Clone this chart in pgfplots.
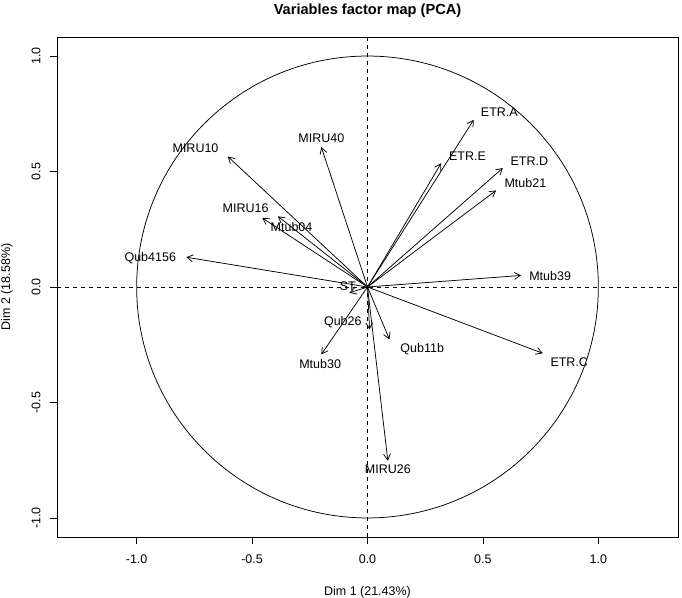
\documentclass[border=0pt]{standalone}
\usepackage{fontspec}
\setmainfont{Liberation Sans}
\usepackage{pgfplots}
\usepackage{pgfplotstable}
\pgfplotsset{compat=1.18}
\usetikzlibrary{arrows.meta}

% arrow tips (Dim 1, Dim 2)
\pgfplotstableread{
name    x0 y0 u      v
ETR.A   0  0  0.460  0.724
ETR.E   0  0  0.319  0.536
ETR.D   0  0  0.586  0.515
Mtub21  0  0  0.557  0.418
Mtub39  0  0  0.665  0.050
ETR.C   0  0  0.759  -0.287
MIRU10  0  0  -0.605 0.565
MIRU40  0  0  -0.200 0.606
MIRU16  0  0  -0.456 0.299
Mtub04  0  0  -0.388 0.306
Qub4156 0  0  -0.785 0.129
ST      0  0  -0.078 -0.025
Qub26   0  0  0.009  -0.184
Qub11b  0  0  0.095  -0.227
Mtub30  0  0  -0.200 -0.292
MIRU26  0  0  0.088  -0.752
}\vectors

% label positions
\pgfplotstableread{
name    lx     ly
ETR.A   0.571  0.758
ETR.E   0.433  0.568
ETR.D   0.701  0.546
Mtub21  0.684  0.451
Mtub39  0.791  0.047
ETR.C   0.874  -0.327
MIRU10  -0.745 0.603
MIRU40  -0.200 0.645
MIRU16  -0.528 0.342
Mtub04  -0.329 0.260
Qub4156 -0.941 0.126
ST      -0.085 0.004
Qub26   -0.107 -0.152
Qub11b  0.237  -0.267
Mtub30  -0.205 -0.332
MIRU26  0.088  -0.788
}\labels

\begin{document}
\begin{tikzpicture}
\begin{axis}[
width=621pt, height=500pt, scale only axis,
xmin=-1.345, xmax=1.345, ymin=-1.0825, ymax=1.0825,
axis line style={line width=0.8pt},
tick align=outside, major tick length=7pt,
tick style={line width=0.75pt, black},
xtick={-1,-0.5,0,0.5,1},
xticklabels={-1.0,-0.5,0.0,0.5,1.0},
ytick={-1,-0.5,0,0.5,1},
yticklabels={-1.0,-0.5,0.0,0.5,1.0},
xtick pos=bottom, ytick pos=left,
ticklabel style={font=\fontsize{12.5}{14}\selectfont},
yticklabel style={rotate=90, anchor=south},
xticklabel shift=7pt, yticklabel shift=6pt,
title={Variables factor map (PCA)},
every axis title shift=0pt,
title style={at={(axis description cs:0.5,1.052)}, anchor=center, font=\fontsize{14.6}{16}\selectfont\bfseries},
xlabel={Dim 1 (21.43\%)},
ylabel={Dim 2 (18.58\%)},
xlabel style={at={(axis description cs:0.5,-0.11)}, anchor=center, font=\fontsize{12.5}{14}\selectfont},
ylabel style={at={(axis description cs:-0.0805,0.5)}, anchor=center, rotate=0, font=\fontsize{12.5}{14}\selectfont},
]
\addplot[black, line width=0.75pt, dash pattern=on 4pt off 4pt] coordinates {(-1.345,0) (1.345,0)};
\addplot[black, line width=0.75pt, dash pattern=on 4pt off 4pt] coordinates {(0,-1.0825) (0,1.0825)};
\draw[black, line width=0.75pt] (axis cs:0,0) ellipse [x radius=1, y radius=1];
\addplot[black, line width=0.75pt, -{Straight Barb[length=6pt, width=7pt, line width=0.75pt]},
  quiver={u=\thisrow{u}, v=\thisrow{v}}] table[x=x0, y=y0] {\vectors};
\addplot[only marks, mark=none, nodes near coords, point meta=explicit symbolic,
  nodes near coords style={anchor=center, font=\fontsize{12.5}{14}\selectfont, inner sep=0pt}]
  table[x=lx, y=ly, meta=name] {\labels};
\end{axis}
\pgfresetboundingbox
\path[use as bounding box] ([xshift=-57pt, yshift=-61pt]current axis.south west) rectangle ([xshift=4pt, yshift=37pt]current axis.north east);
\end{tikzpicture}
\end{document}
